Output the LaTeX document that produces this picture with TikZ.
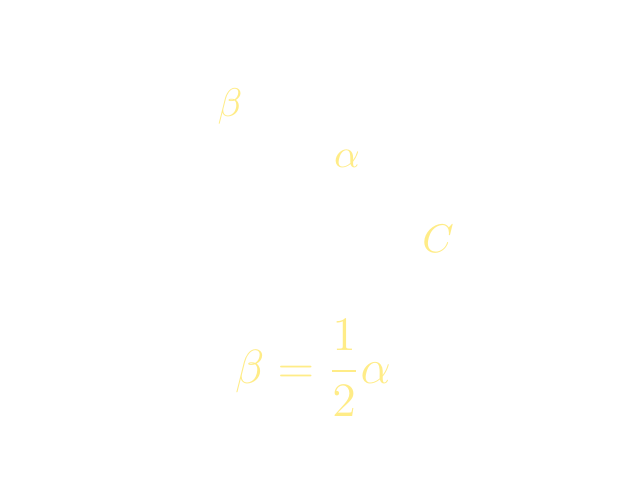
\documentclass[tikz,border=0pt]{standalone}
\definecolor{paleyellow}{RGB}{255,236,135}
\begin{document}
\begin{tikzpicture}[x=0.25pt,y=-0.25pt,
  lbl/.style={text=paleyellow,inner sep=0pt,font=\fontsize{10}{12}\selectfont},
  eqn/.style={text=paleyellow,inner sep=0pt,font=\fontsize{13}{15}\selectfont}]
\useasboundingbox (0,0) rectangle (626,494);
\node[lbl] (beta) at (230,106) {$\beta$};
\node[lbl] (alpha) at (347,159) {$\alpha$};
\node[lbl] (C) at (438,239) {$C$};
\node[eqn] (formula) at (313,368) {$\displaystyle \beta=\frac{1}{2}\alpha$};
\end{tikzpicture}
\end{document}
